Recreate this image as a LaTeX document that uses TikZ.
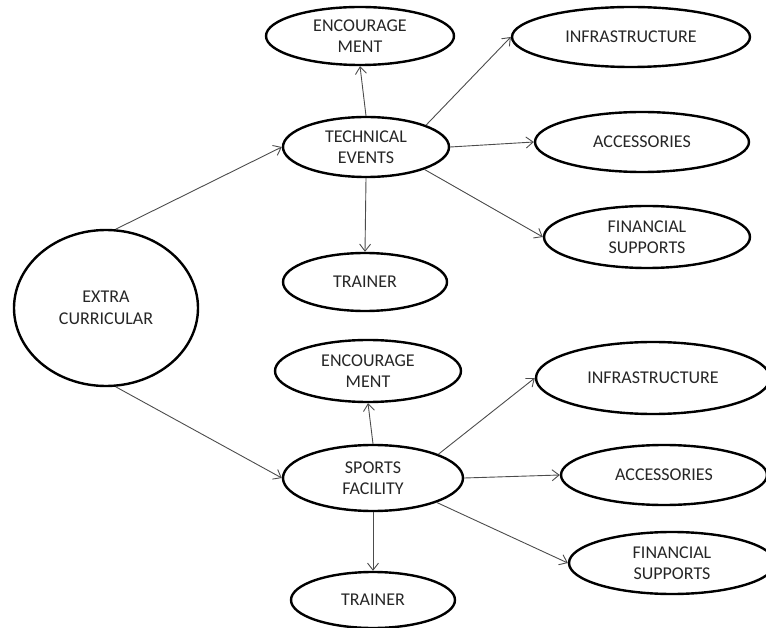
\documentclass[tikz,border=0pt]{standalone}
\usepackage{fontspec}
\setmainfont{Carlito}
\usetikzlibrary{shapes.geometric,arrows.meta}

\tikzset{
  bubble/.style={ellipse, draw=black, line width=2.4pt, inner sep=0pt,
    align=center, text=black!85, font=\fontsize{18}{21.5}\selectfont},
  link/.style={draw=black!70, line width=0.9pt,
    -{Straight Barb[length=7pt,width=11pt]}}
}

\begin{document}
\begin{tikzpicture}[x=1pt,y=-1pt]
\useasboundingbox (0,0) rectangle (766,628);

% root
\node[bubble, minimum width=184pt, minimum height=156pt] (ec) at (106,308) {EXTRA\\CURRICULAR};

% technical branch
\node[bubble, minimum width=166pt, minimum height=60pt] (te) at (366,147) {TECHNICAL\\EVENTS};
\node[bubble, minimum width=188pt, minimum height=58pt] (e1) at (360,36) {ENCOURAGE\\MENT};
\node[bubble, minimum width=238pt, minimum height=60pt] (i1) at (631,37) {INFRASTRUCTURE};
\node[bubble, minimum width=214pt, minimum height=60pt] (a1) at (642,142) {ACCESSORIES};
\node[bubble, minimum width=206pt, minimum height=62pt] (f1) at (647,237) {FINANCIAL\\SUPPORTS};
\node[bubble, minimum width=164pt, minimum height=58pt] (t1) at (365,282) {TRAINER};

% sports branch
\node[bubble, minimum width=180pt, minimum height=66pt] (sf) at (373,478) {SPORTS\\FACILITY};
\node[bubble, minimum width=186pt, minimum height=62pt] (e2) at (368,371) {ENCOURAGE\\MENT};
\node[bubble, minimum width=234pt, minimum height=72pt] (i2) at (653,378) {INFRASTRUCTURE};
\node[bubble, minimum width=206pt, minimum height=60pt] (a2) at (664,475) {ACCESSORIES};
\node[bubble, minimum width=206pt, minimum height=62pt] (f2) at (672,563) {FINANCIAL\\SUPPORTS};
\node[bubble, minimum width=164pt, minimum height=56pt] (t2) at (373,600) {TRAINER};

% connectors
\draw[link] (ec.83) -- (te.west);
\draw[link] (ec.-83) -- (sf.west);

\draw[link] (te.north) -- (e1.south);
\draw[link] (te.20) -- (i1.west);
\draw[link] (te.east) -- (a1.west);
\draw[link] (te.-21) -- (f1.west);
\draw[link] (te.south) -- (t1.north);

\draw[link] (sf.north) -- (e2.south);
\draw[link] (sf.20) -- (i2.west);
\draw[link] (sf.east) -- (a2.west);
\draw[link] (sf.-21) -- (f2.west);
\draw[link] (sf.south) -- (t2.north);
\end{tikzpicture}
\end{document}
